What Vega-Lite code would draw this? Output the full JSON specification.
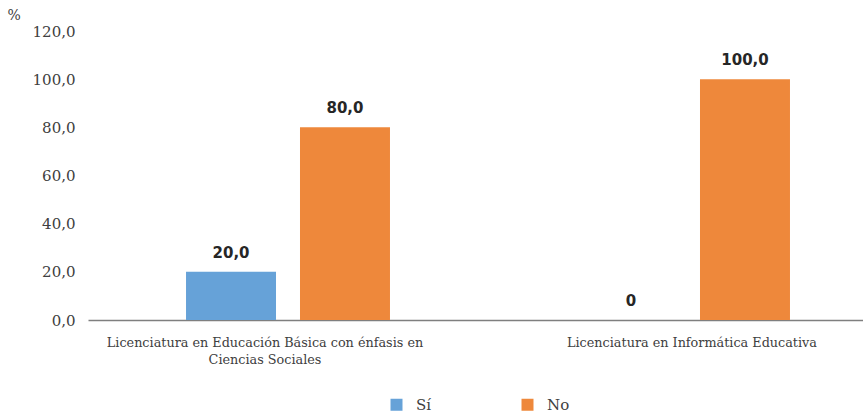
{
  "$schema": "https://vega.github.io/schema/vega-lite/v6.json",
  "autosize": "none",
  "width": 775,
  "height": 289,
  "padding": {"left": 88, "top": 31, "right": 0, "bottom": 94},
  "background": "white",
  "config": {
    "view": {"stroke": null},
    "locale": {"number": {"decimal": ",", "thousands": ".", "grouping": [3], "currency": ["$", ""]}}
  },
  "data": {
    "values": [
      {"programa": "Licenciatura en Educación Básica con énfasis en Ciencias Sociales", "respuesta": "Sí", "valor": 20, "etiqueta": "20,0"},
      {"programa": "Licenciatura en Educación Básica con énfasis en Ciencias Sociales", "respuesta": "No", "valor": 80, "etiqueta": "80,0"},
      {"programa": "Licenciatura en Informática Educativa", "respuesta": "Sí", "valor": 0, "etiqueta": "0"},
      {"programa": "Licenciatura en Informática Educativa", "respuesta": "No", "valor": 100, "etiqueta": "100,0"}
    ]
  },
  "encoding": {
    "x": {
      "field": "programa",
      "type": "nominal",
      "sort": null,
      "scale": {"range": [0, 800], "paddingInner": 0, "paddingOuter": 0},
      "axis": {
        "title": null,
        "labelAngle": 0,
        "ticks": false,
        "domainColor": "#7f7f7f",
        "domainWidth": 1.5,
        "labelFont": "DejaVu Serif",
        "labelFontSize": 12.8,
        "labelColor": "#404040",
        "labelPadding": 16,
        "labelLimit": 0,
        "labelLineHeight": 17,
        "labelOffset": {"condition": {"test": "datum.value == 'Licenciatura en Educación Básica con énfasis en Ciencias Sociales'", "value": -23}, "value": 4},
        "labelExpr": "datum.value == 'Licenciatura en Educación Básica con énfasis en Ciencias Sociales' ? ['Licenciatura en Educación Básica con énfasis en', 'Ciencias Sociales'] : datum.value"
      }
    },
    "xOffset": {
      "field": "respuesta",
      "type": "nominal",
      "sort": ["Sí", "No"],
      "scale": {"paddingInner": 0.2105, "paddingOuter": 0.86}
    },
    "y": {
      "field": "valor",
      "type": "quantitative",
      "scale": {"domain": [0, 120], "nice": false},
      "axis": {
        "title": "%",
        "titleAngle": 0,
        "titleAlign": "left",
        "titleBaseline": "middle",
        "titleX": -81,
        "titleY": -16,
        "titleFont": "DejaVu Serif",
        "titleFontSize": 14,
        "titleFontWeight": "normal",
        "titleColor": "#404040",
        "values": [0, 20, 40, 60, 80, 100, 120],
        "format": ".1f",
        "grid": false,
        "domain": false,
        "ticks": false,
        "labelPadding": 13,
        "labelFont": "DejaVu Serif",
        "labelFontSize": 15,
        "labelColor": "#404040"
      }
    }
  },
  "layer": [
    {
      "mark": {"type": "bar"},
      "encoding": {
        "color": {
          "field": "respuesta",
          "type": "nominal",
          "sort": ["Sí", "No"],
          "scale": {"domain": ["Sí", "No"], "range": ["#66A2D8", "#EE883B"]},
          "legend": {
            "title": null,
            "orient": "none",
            "direction": "horizontal",
            "legendX": 301,
            "legendY": 366,
            "symbolType": "square",
            "symbolSize": 144,
            "symbolStrokeWidth": 0,
            "labelFont": "DejaVu Serif",
            "labelFontSize": 15,
            "labelColor": "#404040",
            "labelOffset": 12,
            "columnPadding": 88
          }
        }
      }
    },
    {
      "mark": {"type": "text", "baseline": "bottom", "dy": -11, "font": "DejaVu Sans", "fontWeight": "bold", "fontSize": 15, "color": "#262626"},
      "encoding": {
        "text": {"field": "etiqueta", "type": "nominal"}
      }
    }
  ]
}
